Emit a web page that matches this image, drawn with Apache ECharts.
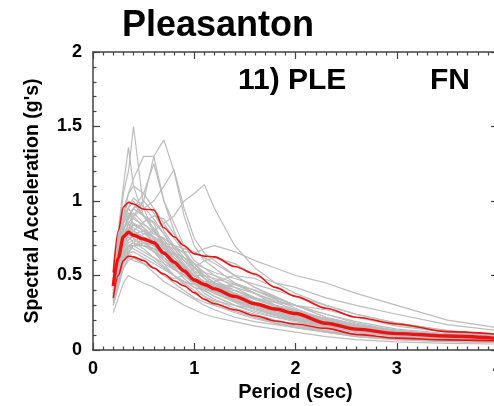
<!DOCTYPE html>
<html>
<head>
<meta charset="utf-8">
<script src="https://cdn.jsdelivr.net/npm/echarts@6/dist/echarts.min.js"></script>
<style>
  html, body { margin: 0; padding: 0; background: #fff; }
  #chart { width: 494px; height: 406px; }
</style>
</head>
<body>
<div id="chart"></div>
<script>
// Periods (sec) at which every response spectrum is sampled
const periods = [0.2, 0.25, 0.3, 0.35, 0.4, 0.5, 0.6, 0.7, 0.8, 0.9, 1.0, 1.1, 1.2, 1.4, 1.6, 1.8, 2.0, 2.3, 2.6, 3.0, 3.5, 4.0];

// Individual ground-motion spectra (g)
const spectra = [
  [0.45,0.75,1.05,1.2,1.5,0.95,0.8,0.7,0.62,0.55,0.48,0.42,0.4,0.33,0.28,0.24,0.2,0.16,0.13,0.1,0.08,0.07],
  [0.4,0.55,0.7,0.8,0.9,1.0,1.3,1.41,1.2,0.9,0.7,0.6,0.55,0.45,0.38,0.3,0.26,0.2,0.16,0.12,0.1,0.08],
  [0.38,0.5,0.62,0.7,0.72,0.78,0.8,0.85,0.9,1.0,1.05,1.11,0.95,0.7,0.55,0.45,0.38,0.3,0.24,0.18,0.13,0.1],
  [0.42,0.6,0.75,0.85,0.9,0.95,1.0,1.1,1.21,0.95,0.75,0.65,0.6,0.5,0.42,0.35,0.3,0.22,0.17,0.13,0.1,0.08],
  [0.5,0.8,1.1,1.36,1.1,0.9,0.85,0.7,0.6,0.5,0.45,0.4,0.36,0.3,0.25,0.22,0.19,0.15,0.12,0.09,0.075,0.06],
  [0.48,0.7,0.9,1.05,1.15,1.3,1.3,1.0,0.8,0.65,0.55,0.48,0.44,0.38,0.32,0.28,0.24,0.18,0.14,0.11,0.09,0.07],
  [0.4,0.62,0.8,0.9,0.95,1.05,1.25,1.0,0.85,0.7,0.6,0.55,0.5,0.42,0.35,0.3,0.26,0.2,0.15,0.12,0.1,0.08],
  [0.35,0.5,0.6,0.65,0.7,0.75,0.72,0.7,0.68,0.66,0.65,0.68,0.7,0.66,0.6,0.55,0.5,0.45,0.38,0.3,0.2,0.15],
  [0.32,0.45,0.55,0.62,0.6,0.58,0.55,0.5,0.48,0.5,0.55,0.6,0.62,0.58,0.5,0.45,0.42,0.35,0.3,0.24,0.17,0.13],
  [0.25,0.35,0.45,0.5,0.48,0.45,0.42,0.38,0.34,0.3,0.27,0.24,0.22,0.19,0.16,0.14,0.12,0.09,0.07,0.055,0.045,0.04],
  [0.3,0.42,0.55,0.6,0.62,0.58,0.55,0.5,0.45,0.4,0.35,0.32,0.3,0.26,0.22,0.18,0.15,0.12,0.09,0.07,0.06,0.05],
  [0.45,0.7,0.85,0.95,1.0,0.9,0.8,0.72,0.65,0.55,0.48,0.43,0.4,0.33,0.28,0.23,0.2,0.15,0.12,0.1,0.08,0.07],
  [0.38,0.55,0.7,0.78,0.75,0.7,0.68,0.6,0.55,0.5,0.44,0.4,0.36,0.3,0.26,0.22,0.2,0.16,0.12,0.1,0.08,0.07],
  [0.42,0.6,0.8,0.9,0.85,0.8,0.75,0.68,0.6,0.52,0.45,0.38,0.34,0.28,0.24,0.2,0.17,0.13,0.1,0.08,0.065,0.055],
  [0.5,0.7,0.82,0.88,0.92,0.85,0.78,0.75,0.7,0.62,0.55,0.5,0.45,0.42,0.38,0.33,0.3,0.24,0.19,0.14,0.11,0.09],
  [0.36,0.52,0.65,0.7,0.72,0.68,0.62,0.56,0.5,0.46,0.42,0.4,0.42,0.44,0.4,0.35,0.3,0.22,0.17,0.13,0.1,0.085],
  [0.4,0.6,0.75,0.82,0.8,0.76,0.7,0.62,0.55,0.48,0.42,0.36,0.32,0.26,0.22,0.19,0.16,0.12,0.09,0.07,0.055,0.05],
  [0.46,0.68,0.85,0.9,0.95,1.0,0.92,0.8,0.7,0.62,0.55,0.52,0.5,0.45,0.4,0.34,0.28,0.2,0.15,0.11,0.09,0.075],
  [0.34,0.5,0.6,0.66,0.7,0.72,0.7,0.68,0.64,0.6,0.55,0.5,0.45,0.38,0.3,0.25,0.21,0.16,0.12,0.09,0.075,0.065],
  [0.44,0.65,0.82,0.85,0.8,0.74,0.66,0.58,0.5,0.44,0.38,0.34,0.3,0.25,0.21,0.18,0.16,0.13,0.1,0.08,0.065,0.055],
  [0.38,0.58,0.72,0.8,0.85,0.82,0.76,0.72,0.7,0.68,0.66,0.62,0.58,0.5,0.42,0.36,0.3,0.24,0.18,0.13,0.1,0.08],
  [0.3,0.45,0.58,0.65,0.66,0.62,0.58,0.54,0.5,0.45,0.4,0.36,0.33,0.3,0.28,0.26,0.24,0.2,0.16,0.12,0.09,0.07],
  [0.48,0.72,0.9,1.0,0.98,0.9,0.82,0.72,0.62,0.55,0.5,0.46,0.42,0.36,0.3,0.26,0.22,0.17,0.13,0.1,0.08,0.065],
  [0.4,0.56,0.68,0.74,0.78,0.8,0.78,0.75,0.7,0.65,0.58,0.52,0.47,0.4,0.35,0.32,0.3,0.27,0.22,0.17,0.12,0.095],
  [0.35,0.48,0.6,0.65,0.62,0.58,0.52,0.46,0.42,0.38,0.34,0.3,0.27,0.22,0.19,0.17,0.15,0.12,0.1,0.08,0.065,0.055],
  [0.52,0.78,0.95,1.05,1.1,1.05,0.95,0.85,0.75,0.66,0.58,0.5,0.45,0.38,0.32,0.27,0.23,0.18,0.14,0.11,0.09,0.075],
  [0.42,0.62,0.78,0.82,0.78,0.72,0.68,0.66,0.65,0.62,0.58,0.55,0.52,0.48,0.44,0.4,0.36,0.3,0.24,0.18,0.13,0.1],
  [0.37,0.54,0.66,0.72,0.74,0.72,0.66,0.6,0.54,0.5,0.48,0.46,0.45,0.4,0.34,0.29,0.25,0.19,0.15,0.12,0.095,0.08],
  [0.45,0.66,0.8,0.88,0.95,0.9,0.86,0.78,0.68,0.6,0.52,0.45,0.4,0.34,0.28,0.24,0.21,0.17,0.14,0.11,0.085,0.07],
  [0.33,0.5,0.62,0.7,0.68,0.64,0.6,0.55,0.5,0.46,0.44,0.44,0.46,0.5,0.48,0.42,0.36,0.28,0.22,0.16,0.12,0.09],
  [0.4,0.58,0.72,0.76,0.8,0.86,0.9,0.88,0.78,0.66,0.56,0.48,0.42,0.35,0.3,0.25,0.22,0.18,0.14,0.11,0.09,0.075],
  [0.46,0.7,0.88,0.95,0.9,0.82,0.7,0.62,0.56,0.52,0.5,0.5,0.48,0.44,0.38,0.32,0.27,0.21,0.16,0.12,0.095,0.08],
  [0.4,0.6,0.74,0.8,0.78,0.74,0.72,0.66,0.6,0.54,0.48,0.44,0.4,0.35,0.3,0.26,0.23,0.18,0.14,0.11,0.09,0.075],
  [0.44,0.64,0.78,0.84,0.82,0.78,0.74,0.68,0.62,0.56,0.5,0.45,0.42,0.36,0.31,0.27,0.24,0.19,0.15,0.115,0.092,0.078],
  [0.36,0.55,0.68,0.74,0.76,0.74,0.7,0.64,0.58,0.52,0.46,0.42,0.39,0.34,0.29,0.25,0.22,0.17,0.13,0.1,0.082,0.07],
  [0.48,0.7,0.86,0.92,0.88,0.84,0.8,0.74,0.66,0.58,0.5,0.46,0.43,0.38,0.34,0.3,0.27,0.21,0.16,0.12,0.1,0.085],
  [0.34,0.52,0.64,0.7,0.7,0.66,0.62,0.58,0.54,0.5,0.45,0.41,0.38,0.33,0.28,0.24,0.21,0.16,0.12,0.095,0.078,0.065],
  [0.42,0.62,0.76,0.8,0.84,0.8,0.76,0.7,0.64,0.57,0.5,0.46,0.44,0.4,0.35,0.3,0.26,0.2,0.15,0.115,0.09,0.075],
  [0.38,0.58,0.7,0.76,0.72,0.7,0.66,0.62,0.57,0.52,0.47,0.43,0.4,0.36,0.32,0.28,0.25,0.2,0.16,0.125,0.1,0.082],
  [0.5,0.74,0.9,0.96,1.02,0.96,0.88,0.78,0.68,0.6,0.53,0.48,0.44,0.37,0.31,0.27,0.24,0.19,0.15,0.115,0.09,0.075],
  [0.32,0.48,0.6,0.68,0.7,0.7,0.68,0.64,0.6,0.55,0.5,0.46,0.43,0.37,0.32,0.28,0.25,0.21,0.17,0.13,0.1,0.085],
  [0.46,0.66,0.82,0.86,0.84,0.8,0.72,0.64,0.58,0.52,0.46,0.42,0.38,0.32,0.27,0.23,0.2,0.16,0.125,0.1,0.08,0.068]
];

// Median spectrum and the +/- one standard deviation bounds (g)
const median = [0.43,0.62,0.76,0.79,0.77,0.745,0.72,0.65,0.59,0.53,0.47,0.44,0.41,0.36,0.31,0.275,0.245,0.18,0.14,0.11,0.094,0.078];
const plusSigma = [0.52,0.80,0.96,0.99,0.98,0.945,0.94,0.82,0.76,0.70,0.645,0.63,0.625,0.56,0.51,0.42,0.36,0.28,0.22,0.175,0.123,0.105];
const minusSigma = [0.35,0.50,0.60,0.63,0.625,0.60,0.55,0.51,0.465,0.43,0.385,0.34,0.31,0.27,0.23,0.195,0.175,0.145,0.105,0.08,0.068,0.062];

const xTicks = [0, 1, 2, 3, 4];
const yTicks = [0, 0.5, 1, 1.5, 2];

const FONT = '"Liberation Sans", Arial, Helvetica, sans-serif';

function pairs(vals) {
  return periods.map((p, i) => [p, vals[i]]);
}

const series = [];
spectra.forEach((s, i) => {
  series.push({
    name: 'record ' + (i + 1),
    type: 'line',
    data: pairs(s),
    showSymbol: false,
    silent: true,
    lineStyle: { color: '#bcbcbc', width: 1.2 },
    z: 2
  });
});
[[plusSigma, 1.6], [minusSigma, 1.6], [median, 3.4]].forEach(([vals, w], i) => {
  series.push({
    name: ['+sigma', '-sigma', 'median'][i],
    type: 'line',
    data: pairs(vals),
    showSymbol: false,
    silent: true,
    smooth: 0.3,
    smoothMonotone: 'x',
    lineStyle: { color: '#ee1111', width: w },
    z: 5
  });
});

const axisLine = { show: true, onZero: false, lineStyle: { color: '#444', width: 1.5 } };
const tickStyle = { color: '#444', width: 1.2 };

const chart = echarts.init(document.getElementById('chart'), null, { renderer: 'canvas' });
chart.setOption({
  animation: false,
  backgroundColor: '#fff',
  grid: { left: 93, top: 52, width: 405, height: 298, containLabel: false, outerBoundsMode: 'none' },
  xAxis: [{
    type: 'value', min: xTicks[0], max: xTicks[xTicks.length - 1], interval: 1,
    position: 'bottom',
    axisLine,
    axisTick: { inside: true, length: 7, lineStyle: tickStyle },
    minorTick: { show: true, splitNumber: 10, length: 3.5, lineStyle: tickStyle },
    splitLine: { show: false },
    axisLabel: { color: '#000', fontSize: 18, fontWeight: 'bold', fontFamily: FONT, margin: 10 },
    name: 'Period (sec)', nameLocation: 'middle', nameGap: 31,
    nameTextStyle: { color: '#000', fontSize: 20, fontWeight: 'bold', fontFamily: FONT }
  }, {
    type: 'value', min: xTicks[0], max: xTicks[xTicks.length - 1], interval: 1,
    position: 'top',
    axisLine,
    axisTick: { inside: true, length: 7, lineStyle: tickStyle },
    minorTick: { show: true, splitNumber: 10, length: 3.5, lineStyle: tickStyle },
    splitLine: { show: false },
    axisLabel: { show: false }
  }],
  yAxis: [{
    type: 'value', min: yTicks[0], max: yTicks[yTicks.length - 1], interval: 0.5,
    position: 'left',
    axisLine,
    axisTick: { inside: true, length: 7, lineStyle: tickStyle },
    minorTick: { show: true, splitNumber: 5, length: 3.5, lineStyle: tickStyle },
    splitLine: { show: false },
    axisLabel: { color: '#000', fontSize: 18, fontWeight: 'bold', fontFamily: FONT, margin: 11 },
    name: "Spectral Acceleration (g's)", nameLocation: 'middle', nameGap: 50,
    nameTextStyle: { color: '#000', fontSize: 19.5, fontWeight: 'bold', fontFamily: FONT }
  }, {
    type: 'value', min: yTicks[0], max: yTicks[yTicks.length - 1], interval: 0.5,
    position: 'right',
    axisLine,
    axisTick: { inside: true, length: 7, lineStyle: tickStyle },
    minorTick: { show: true, splitNumber: 5, length: 3.5, lineStyle: tickStyle },
    splitLine: { show: false },
    axisLabel: { show: false }
  }],
  graphic: [
    { type: 'text', left: 122, top: 8, style: { text: 'Pleasanton', font: 'bold 36px ' + FONT, fill: '#000' } },
    { type: 'text', left: 238, top: 66, style: { text: '11) PLE', font: 'bold 30px ' + FONT, fill: '#000' } },
    { type: 'text', left: 430, top: 66, style: { text: 'FN', font: 'bold 30px ' + FONT, fill: '#000' } }
  ],
  series
});
</script>
</body>
</html>
